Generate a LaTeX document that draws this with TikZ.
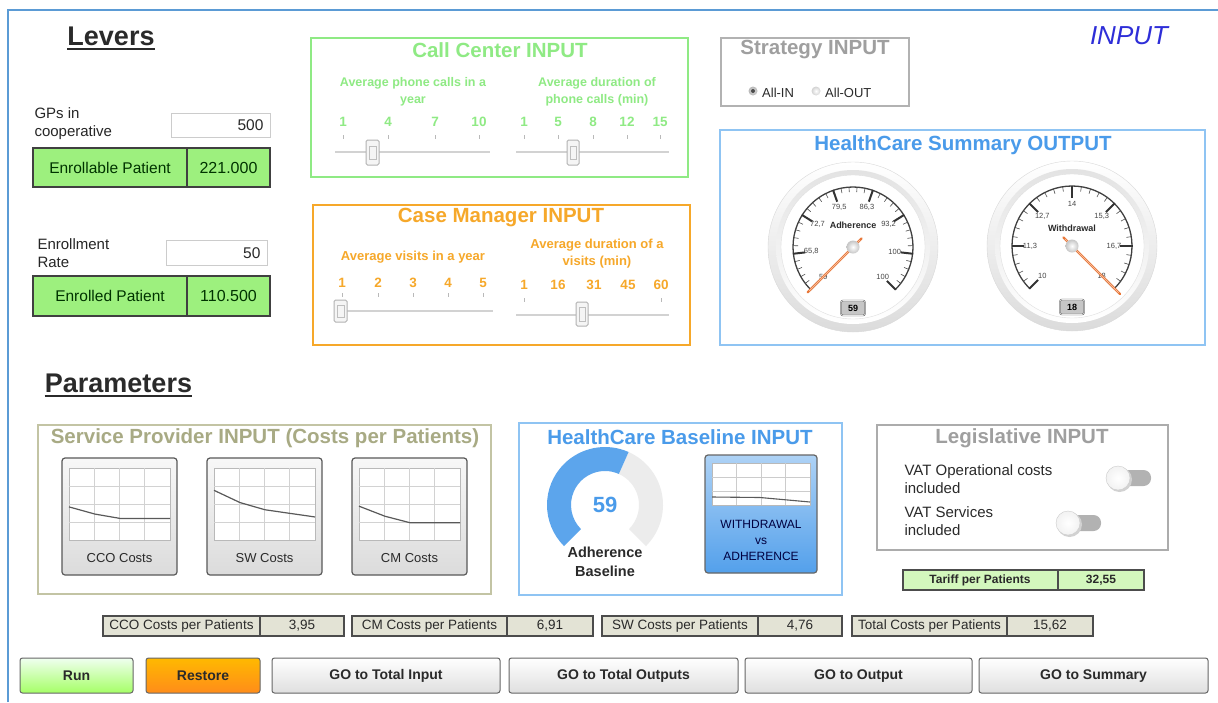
\documentclass[tikz,border=0pt]{standalone}
\usepackage{fontspec}
\setmainfont{Liberation Sans}
\definecolor{frameblue}{HTML}{5B9BD5}
\definecolor{lvgreen}{HTML}{9DF07E}
\definecolor{ccgreen}{HTML}{8FEA84}
\definecolor{cmorange}{HTML}{F6A82A}
\definecolor{hcblue}{HTML}{4A9BEA}
\definecolor{hcborder}{HTML}{8FC4F3}
\definecolor{spolive}{HTML}{A8AA84}
\definecolor{spborder}{HTML}{C3C4A4}
\definecolor{inputblue}{HTML}{2E2ED8}
\definecolor{costfill}{HTML}{E3E3D5}
\definecolor{tarfill}{HTML}{D3F7BD}
\definecolor{needle}{HTML}{E8783A}
\definecolor{txt}{HTML}{2A2A2A}
\begin{document}
\begin{tikzpicture}[x=1pt,y=-1pt,
  fr/.style={font=\fontsize{#1}{#1}\selectfont},
  fb/.style={font=\fontsize{#1}{#1}\selectfont\bfseries},
  title/.style={fb=20.5},
  inbox/.style={draw=gray!40, line width=0.8, fill=white},
  greenbox/.style={draw=black!75, line width=1.2, fill=lvgreen},
  costbox/.style={draw=black!70, line width=1.1, fill=costfill},
  track/.style={gray!35, line width=2.5},
  thumb/.style={draw=gray!60, fill=gray!8, line width=1, rounded corners=1.5},
  tick/.style={gray!55, line width=0.7},
  btn/.style={draw=black!60, line width=1, rounded corners=2.5},
  btntext/.style={fb=14, txt},
  chartbtn/.style={draw=black!65, line width=1.2, rounded corners=3, top color=gray!6, bottom color=gray!28},
  gaugelab/.style={fr=7.5, gray!55!black, inner sep=0},
  valbox/.style={draw=black!70, fill=gray!45, rounded corners=2, fb=9, minimum width=24, minimum height=15, inner sep=0, double=gray!20, double distance=0.6}
]
\useasboundingbox (0,0) rectangle (1218,702);
\fill[white] (0,0) rectangle (1218,702);
\draw[frameblue, line width=2] (8,702) -- (8,10) -- (1218,10);

% ---------- Levers ----------
\node[fb=27, txt, anchor=base, inner sep=0] (levers) at (111,45) {Levers};
\draw[txt, line width=1.8] ([yshift=-4pt]levers.base west) -- ([yshift=-4pt]levers.base east);

\node[anchor=west, align=left, font=\fontsize{15}{18}\selectfont, gray!30!black] (gps) at (31,124) {GPs in\\cooperative};
\draw[inbox] (171,113) rectangle (270,137);
\node[fr=15.5, anchor=east, txt] (gpsval) at (267,125) {500};
\draw[greenbox] (33,148) rectangle (270,187);
\draw[black!75, line width=1.2] (187,148) -- (187,187);
\node[fr=15.5, black!80!green] (enrl) at (110,168) {Enrollable Patient};
\node[fr=16, black!80!green] (enrlv) at (228.5,168) {221.000};

\node[anchor=west, align=left, font=\fontsize{15}{18}\selectfont, gray!30!black] (rate) at (34,253) {Enrollment\\Rate};
\draw[inbox] (166,240) rectangle (267,265);
\node[fr=15.5, anchor=east, txt] (rateval) at (264,253) {50};
\draw[greenbox] (33,276) rectangle (270,316);
\draw[black!75, line width=1.2] (187,276) -- (187,316);
\node[fr=15.5, black!80!green] (enrd) at (110,296) {Enrolled Patient};
\node[fr=16, black!80!green] (enrdv) at (228.5,296) {110.500};

% ---------- Call Center ----------
\draw[ccgreen, line width=1.6] (311,38) rectangle (688,177);
\node[title, ccgreen] (cctitle) at (500,50) {Call Center INPUT};
\node[align=center, font=\fontsize{12.5}{17}\selectfont\bfseries, ccgreen] (cclab1) at (413,92) {Average phone calls in a\\year};
\node[align=center, font=\fontsize{12.5}{17}\selectfont\bfseries, ccgreen] (cclab2) at (597,92) {Average duration of\\phone calls (min)};
\foreach \x/\v in {343/1,388/4,435/7,479/10} {
  \node[fb=13.5, ccgreen] (cca\v) at (\x,122) {\v};
  \draw[tick] (\x,135) -- (\x,139);
}
\foreach \x/\v in {524/1,558/5,593/8,627/12,660/15} {
  \node[fb=13.5, ccgreen] (ccb\v) at (\x,122) {\v};
  \draw[tick] (\x,135) -- (\x,139);
}
\draw[track] (335,152) -- (490,152);
\draw[thumb] (366,140) rectangle (379,165);
\draw[gray!50] (369,146) rectangle (376,159);
\draw[track] (516,152) -- (669,152);
\draw[thumb] (567,140) rectangle (579,165);
\draw[gray!50] (570,146) rectangle (576,159);

% ---------- Case Manager ----------
\draw[cmorange, line width=1.6] (313,205) rectangle (690,345);
\node[title, cmorange] (cmtitle) at (501,218) {Case Manager INPUT};
\node[fb=13, cmorange] (cmlab1) at (413,257) {Average visits in a year};
\node[align=center, font=\fontsize{13}{17}\selectfont\bfseries, cmorange] (cmlab2) at (597,254) {Average duration of a\\visits (min)};
\foreach \x/\v in {342/1,378/2,413/3,448/4,483/5} {
  \node[fb=13.5, cmorange] (cma\v) at (\x,283) {\v};
  \draw[tick] (\x,293) -- (\x,297);
}
\foreach \x/\v in {524/1,558/16,594/31,628/45,661/60} {
  \node[fb=13.5, cmorange] (cmb\v) at (\x,285) {\v};
}
\draw[tick] (524,298) -- (524,302);
\draw[tick] (661,298) -- (661,302);
\draw[track] (335,311) -- (493,311);
\draw[thumb] (334,300) rectangle (347,322);
\draw[gray!50] (337,305) rectangle (344,317);
\draw[track] (516,315) -- (669,315);
\draw[thumb] (576,302) rectangle (588,326);
\draw[gray!50] (579,307) rectangle (585,321);

% ---------- Strategy ----------
\draw[gray!60, line width=1.3] (721,38) rectangle (909,106);
\node[title, gray!75] (sttitle) at (815,50) {Strategy INPUT};
\shade[inner color=gray!30, outer color=gray!55] (753,91) circle (4.5);
\fill[black!70] (753,91) circle (2);
\node[fr=13, txt, anchor=west, inner sep=0] (allin) at (762,93) {All-IN};
\shade[inner color=white, outer color=gray!35] (816,91) circle (4.5);
\node[fr=13, txt, anchor=west, inner sep=0] (allout) at (825,93) {All-OUT};

\node[font=\fontsize{26}{26}\selectfont\itshape, inputblue] (inputlbl) at (1129,36) {INPUT};

% ---------- HealthCare Summary ----------
\draw[hcborder, line width=1.6] (720,130) rectangle (1205,345);
\node[title, hcblue] (hstitle) at (963,145) {HealthCare Summary OUTPUT};

% Adherence gauge
\begin{scope}[shift={(853,247)}, yscale=-1]
  \shade[top color=white, bottom color=gray!28, draw=gray!30] (0,0) circle (85);
  \shade[top color=gray!22, bottom color=white] (0,0) circle (77);
  \draw[gray!25, fill=white] (0,0) circle (72);
  \draw[black!75, line width=1.3] (225:60) arc[start angle=225, end angle=-45, radius=60];
  \foreach \i in {0,...,35} \draw[black!70, line width=0.6] ({225-\i*270/35}:60) -- ({225-\i*270/35}:55);
  \foreach \i in {0,...,7} \draw[black!80, line width=2] ({225-\i*270/7}:60.5) -- ({225-\i*270/7}:48);
  \foreach \v [count=\i from 0] in {59,{65,8},{72,7},{79,5},{86,3},{93,2},100,100}
    \node[gaugelab] (adl\i) at ({225-\i*270/7}:42) {\v};
  \node[fb=9, txt, fill=white, inner sep=0.5] (adname) at (0,22) {Adherence};
  \draw[needle, line width=2.4, line cap=round] (45:12) -- (225:64);
  \draw[needle!40, line width=0.6] (45:10) -- (225:62);
  \shade[inner color=white, outer color=gray!45] (0,0) circle (6.5);
  \node[valbox] (adval) at (0,-61) {59};
\end{scope}

% Withdrawal gauge
\begin{scope}[shift={(1072,246)}, yscale=-1]
  \shade[top color=white, bottom color=gray!28, draw=gray!30] (0,0) circle (85);
  \shade[top color=gray!22, bottom color=white] (0,0) circle (77);
  \draw[gray!25, fill=white] (0,0) circle (72);
  \draw[black!75, line width=1.3] (225:60) arc[start angle=225, end angle=-45, radius=60];
  \foreach \i in {0,...,30} \draw[black!70, line width=0.6] ({225-\i*9}:60) -- ({225-\i*9}:55);
  \foreach \i in {0,...,6} \draw[black!80, line width=2] ({225-\i*45}:60.5) -- ({225-\i*45}:48);
  \foreach \v [count=\i from 0] in {10,{11,3},{12,7},14,{15,3},{16,7},18}
    \node[gaugelab] (wdl\i) at ({225-\i*45}:42) {\v};
  \node[fb=9, txt, fill=white, inner sep=0.5] (wdname) at (0,18) {Withdrawal};
  \draw[needle, line width=2.4, line cap=round] (135:12) -- (-45:68);
  \draw[needle!40, line width=0.6] (135:10) -- (-45:66);
  \shade[inner color=white, outer color=gray!45] (0,0) circle (6.5);
  \node[valbox] (wdval) at (0,-61) {18};
\end{scope}

% ---------- Parameters ----------
\node[fb=27, txt, anchor=base, inner sep=0] (params) at (118.5,392) {Parameters};
\draw[txt, line width=1.8] ([yshift=-4pt]params.base west) -- ([yshift=-4pt]params.base east);

% ---------- Service Provider ----------
\draw[spborder, line width=2] (38,425) rectangle (491,594);
\node[title, spolive] (sptitle) at (265,438) {Service Provider INPUT (Costs per Patients)};
\foreach \dx/\lab/\ya/\yb/\yc/\yd in {0/CCO Costs/.54/.64/.70/.70, 145/SW Costs/.31/.48/.58/.68, 290/CM Costs/.53/.67/.76/.76} {
  \draw[chartbtn] ({62+\dx},458) rectangle ({177+\dx},575);
  \draw[gray!55, fill=white, line width=0.8] ({69+\dx},468) rectangle ({170+\dx},540);
  \foreach \k in {1,2,3} {
    \draw[gray!35, line width=0.6] ({69+\dx+\k*25.25},468) -- ({69+\dx+\k*25.25},540);
    \draw[gray!35, line width=0.6] ({69+\dx},{468+\k*18}) -- ({170+\dx},{468+\k*18});
  }
  \draw[black!65, line width=1.2] ({69+\dx},{468+72*\ya}) -- ({95+\dx},{468+72*\yb}) -- ({120+\dx},{468+72*\yc}) -- ({170+\dx},{468+72*\yd});
  \node[fr=13, txt] (chart\dx) at ({119.5+\dx},558) {\lab};
}

% ---------- HealthCare Baseline ----------
\draw[hcborder, line width=1.6] (519,423) rectangle (842,595);
\node[title, hcblue] (hbtitle) at (680,437) {HealthCare Baseline INPUT};
\begin{scope}[shift={(605,505)}, yscale=-1]
  \fill[gray!15] (66:58) arc[start angle=66, end angle=-45, radius=58] -- (-45:34) arc[start angle=-45, end angle=66, radius=34] -- cycle;
  \fill[hcblue!90] (225:58) arc[start angle=225, end angle=66, radius=58] -- (66:34) arc[start angle=66, end angle=225, radius=34] -- cycle;
\end{scope}
\node[fb=22, hcblue] (donutval) at (605,505) {59};
\node[align=center, font=\fontsize{14.5}{19}\selectfont\bfseries, txt] (adbase) at (605,562) {Adherence\\Baseline};

\draw[draw=black!60, line width=1.2, rounded corners=3, top color=hcblue!45, bottom color=hcblue!95] (705,455) rectangle (817,573);
\draw[gray!55, fill=white, line width=0.8] (712,463) rectangle (810,505);
\foreach \k in {1,2,3} \draw[gray!40, line width=0.6] ({712+\k*24.5},463) -- ({712+\k*24.5},505);
\foreach \k in {1,2} \draw[gray!40, line width=0.6] (712,{463+\k*14}) -- (810,{463+\k*14});
\draw[black!65, line width=1.1] (712,497) -- (760,497.5) -- (810,502);
\node[align=center, font=\fontsize{12}{16}\selectfont, black!75!blue] (wva) at (761,540) {WITHDRAWAL\\vs\\ADHERENCE};

% ---------- Legislative ----------
\draw[gray!65, line width=1.5] (877,425) rectangle (1168,550);
\node[title, gray!75] (lgtitle) at (1022,438) {Legislative INPUT};
\node[anchor=west, align=left, font=\fontsize{15}{18}\selectfont, txt] (vatop) at (901,479) {VAT Operational costs\\included};
\node[anchor=west, align=left, font=\fontsize{15}{18}\selectfont, txt] (vatsv) at (901,521) {VAT Services\\included};
\fill[gray!60, rounded corners=7.5] (1113,470) rectangle (1151,486);
\fill[gray!35] (1119.5,479.5) circle (12.5);
\shade[inner color=white, outer color=gray!10, draw=gray!40] (1118,478) circle (12);
\fill[gray!60, rounded corners=7.5] (1063,515) rectangle (1101,531);
\fill[gray!35] (1069.5,524.5) circle (12.5);
\shade[inner color=white, outer color=gray!10, draw=gray!40] (1068,523) circle (12);

\draw[draw=black!70, line width=1.2, fill=tarfill] (903,570) rectangle (1144,590);
\draw[black!70, line width=1.2] (1058,570) -- (1058,590);
\node[fb=12, txt] (tariff) at (980,580) {Tariff per Patients};
\node[fb=12, txt] (tariffv) at (1101,580) {32,55};

% ---------- Costs per patient ----------
\foreach \xa/\xm/\xb/\lab/\val in {103/260/344/CCO Costs per Patients/{3,95}, 352/507/593/CM Costs per Patients/{6,91}, 602/758/842/SW Costs per Patients/{4,76}, 852/1007/1093/Total Costs per Patients/{15,62}} {
  \draw[costbox] (\xa,616) rectangle (\xb,636);
  \draw[black!70, line width=1.1] (\xm,616) -- (\xm,636);
  \node[fr=13.5, txt] (cost\xa) at ({(\xa+\xm)/2},626) {\lab};
  \node[fr=13.5, txt] (costv\xa) at ({(\xm+\xb)/2},626) {\val};
}

% ---------- Buttons ----------
\draw[btn, top color=green!6, bottom color=green!45!lime!60] (20,658) rectangle (133,693);
\node[btntext] (run) at (76.5,676) {Run};
\draw[btn, top color=orange!55!yellow, bottom color=orange!90] (146,658) rectangle (260,693);
\node[btntext] (restore) at (203,676) {Restore};
\foreach \xa/\xb/\lab in {272/500/GO to Total Input, 509/738/GO to Total Outputs, 745/972/GO to Output, 979/1208/GO to Summary} {
  \draw[btn, top color=white, bottom color=gray!25] (\xa,658) rectangle (\xb,693);
  \node[btntext] (go\xa) at ({(\xa+\xb)/2},676) {\lab};
}
\end{tikzpicture}
\end{document}
